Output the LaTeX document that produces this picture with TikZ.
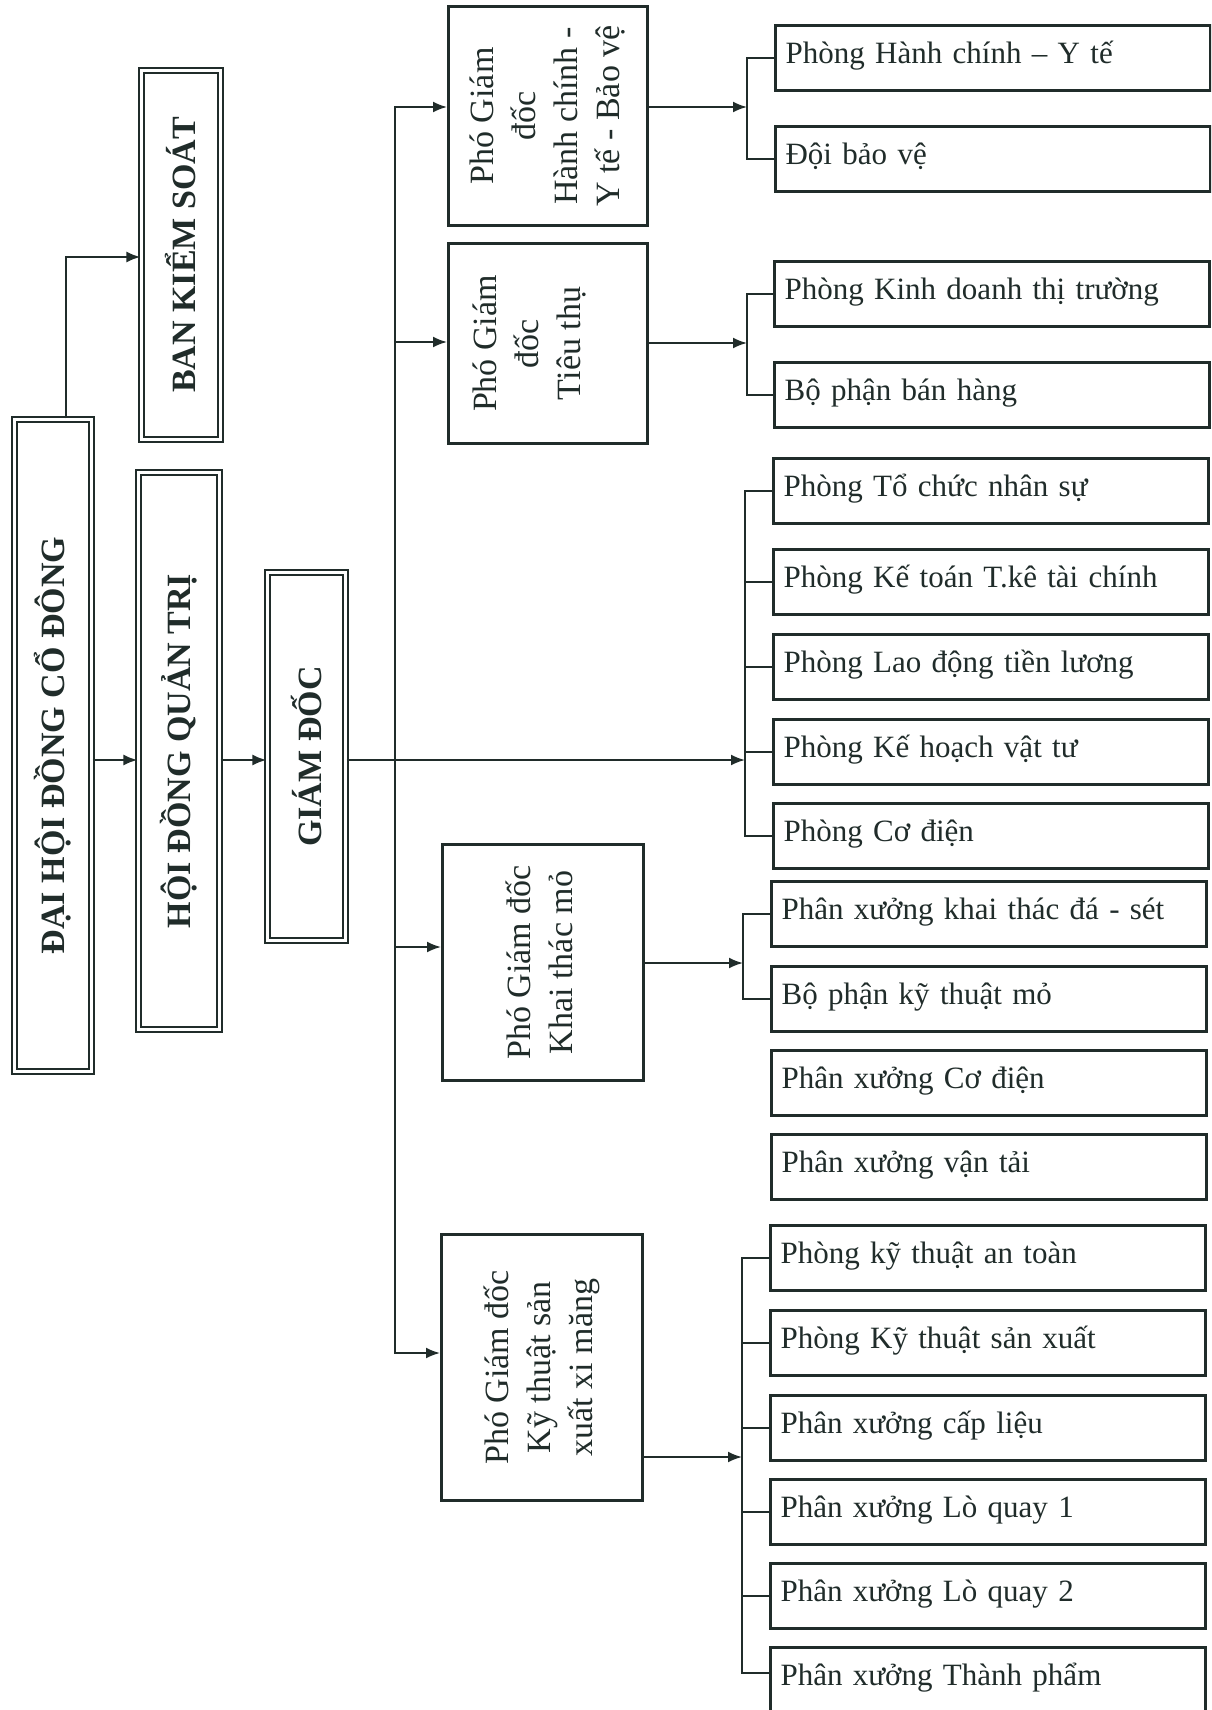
\documentclass[tikz,border=0pt]{standalone}
\usepackage{fontspec}
\setmainfont{Liberation Serif}
\usetikzlibrary{arrows.meta}
\definecolor{ink}{RGB}{32,44,42}
\tikzset{
  conn/.style={draw=ink, line width=2pt},
  arr/.style={conn, -{Latex[length=14pt,width=11pt]}},
  dbox/.style={draw=ink, line width=2.2pt, double=white, double distance=3pt, inner sep=0pt, text=ink,
    font=\bfseries\fontsize{34}{40}\selectfont},
  pbox/.style={draw=ink, line width=3pt, inner sep=0pt, text=ink, font=\fontsize{34}{42}\selectfont},
  rbox/.style={draw=ink, line width=3.2pt, anchor=north west, text width=415pt, align=left,
    text height=38pt, text depth=27pt, inner ysep=0pt, inner xsep=10pt, text=ink,
    font=\fontsize{31}{37}\selectfont},
}
\newcommand{\rt}[1]{\rotatebox{90}{\begin{tabular}{@{}c@{}}#1\end{tabular}}}
\begin{document}
\begin{tikzpicture}[x=1pt,y=-1pt]
\fill[white] (0,0) rectangle (1211,1710);
\clip (0,0) rectangle (1211,1710);

% left column
\node[dbox, minimum width=77pt, minimum height=652pt] (dh) at (53,745.5) {\rotatebox{90}{ĐẠI HỘI ĐỒNG CỔ ĐÔNG}};
\node[dbox, minimum width=79pt, minimum height=369pt] (bks) at (181,255) {\rotatebox{90}{BAN KIỂM SOÁT}};
\node[dbox, minimum width=81pt, minimum height=557pt] (hd) at (179,751) {\rotatebox{90}{HỘI ĐỒNG QUẢN TRỊ}};
\node[dbox, minimum width=78pt, minimum height=368pt] (gd) at (306.5,756.5) {\rotatebox{90}{GIÁM ĐỐC}};

% deputy directors
\node[pbox, minimum width=199pt, minimum height=219pt] (phc) at (548,116) {\rt{Phó Giám\\đốc\\Hành chính -\\Y tế - Bảo vệ}};
\node[pbox, minimum width=199pt, minimum height=200pt] (ptt) at (548,343.5) {\kern-36pt\rt{Phó Giám\\đốc\\Tiêu thụ}};
\node[pbox, minimum width=201pt, minimum height=236pt] (pkt) at (543,962.5) {\rt{Phó Giám đốc\\Khai thác mỏ}};
\node[pbox, minimum width=201pt, minimum height=266pt] (pkx) at (542,1367.5) {\rt{Phó Giám đốc\\Kỹ thuật sản\\xuất xi măng}};

% right boxes
\node[rbox] (r1) at (774,24) {Phòng Hành chính – Y tế};
\node[rbox] (r2) at (774,125) {Đội bảo vệ};
\node[rbox] (r3) at (773,260) {Phòng Kinh doanh thị trường};
\node[rbox] (r4) at (773,361) {Bộ phận bán hàng};
\node[rbox] (r5) at (772,457) {Phòng Tổ chức nhân sự};
\node[rbox] (r6) at (772,548) {Phòng Kế toán T.kê tài chính};
\node[rbox] (r7) at (772,633) {Phòng Lao động tiền lương};
\node[rbox] (r8) at (772,718) {Phòng Kế hoạch vật tư};
\node[rbox] (r9) at (772,802) {Phòng Cơ điện};
\node[rbox] (r10) at (770,880) {Phân xưởng khai thác đá - sét};
\node[rbox] (r11) at (770,965) {Bộ phận kỹ thuật mỏ};
\node[rbox] (r12) at (770,1049) {Phân xưởng Cơ điện};
\node[rbox] (r13) at (770,1133) {Phân xưởng vận tải};
\node[rbox] (r14) at (769,1224) {Phòng kỹ thuật an toàn};
\node[rbox] (r15) at (769,1309) {Phòng Kỹ thuật sản xuất};
\node[rbox] (r16) at (769,1394) {Phân xưởng cấp liệu};
\node[rbox] (r17) at (769,1478) {Phân xưởng Lò quay 1};
\node[rbox] (r18) at (769,1562) {Phân xưởng Lò quay 2};
\node[rbox] (r19) at (769,1646) {Phân xưởng Thành phẩm};

% left connectors
\draw[arr] (dh.north -| 66,0) |- (bks.west |- 0,257);
\draw[arr] (dh.east |- 0,760) -- (hd.west |- 0,760);
\draw[arr] (hd.east |- 0,760) -- (gd.west |- 0,760);

% bus to deputies
\coordinate (bt) at (395,107);
\coordinate (b2) at (395,342);
\coordinate (b3) at (395,947);
\coordinate (bb) at (395,1353);
\draw[arr] (bb) -- (bt) -- (phc.west |- bt);
\draw[arr] (bt) -- (bb) -- (pkx.west |- bb);
\draw[arr] (b2) -- (ptt.west |- b2);
\draw[arr] (b3) -- (pkt.west |- b3);

% director to departments
\coordinate (jg) at (745,760);
\draw[arr] (gd.east |- jg) -- (jg);
\draw[conn] (r5.west) -| (jg) |- (r9.west);
\draw[conn] (r6.west) -- (r6.west -| jg);
\draw[conn] (r7.west) -- (r7.west -| jg);
\draw[conn] (r8.west) -- (r8.west -| jg);

% deputy groups
\coordinate (j1) at (747,107);
\draw[arr] (phc.east |- j1) -- (j1);
\draw[conn] (r1.west) -| (j1) |- (r2.west);

\coordinate (j2) at (747,343);
\draw[arr] (ptt.east |- j2) -- (j2);
\draw[conn] (r3.west) -| (j2) |- (r4.west);

\coordinate (j4) at (743,963);
\draw[arr] (pkt.east |- j4) -- (j4);
\draw[conn] (r10.west) -| (j4) |- (r11.west);

\coordinate (j5) at (742,1457);
\coordinate (j6) at (742,1673);
\draw[arr] (pkx.east |- j5) -- (j5);
\draw[conn] (r14.west) -| (j5) |- (r19.west |- j6);
\foreach \k in {15,16,17,18} \draw[conn] (r\k.west) -- (r\k.west -| j5);
\end{tikzpicture}
\end{document}
